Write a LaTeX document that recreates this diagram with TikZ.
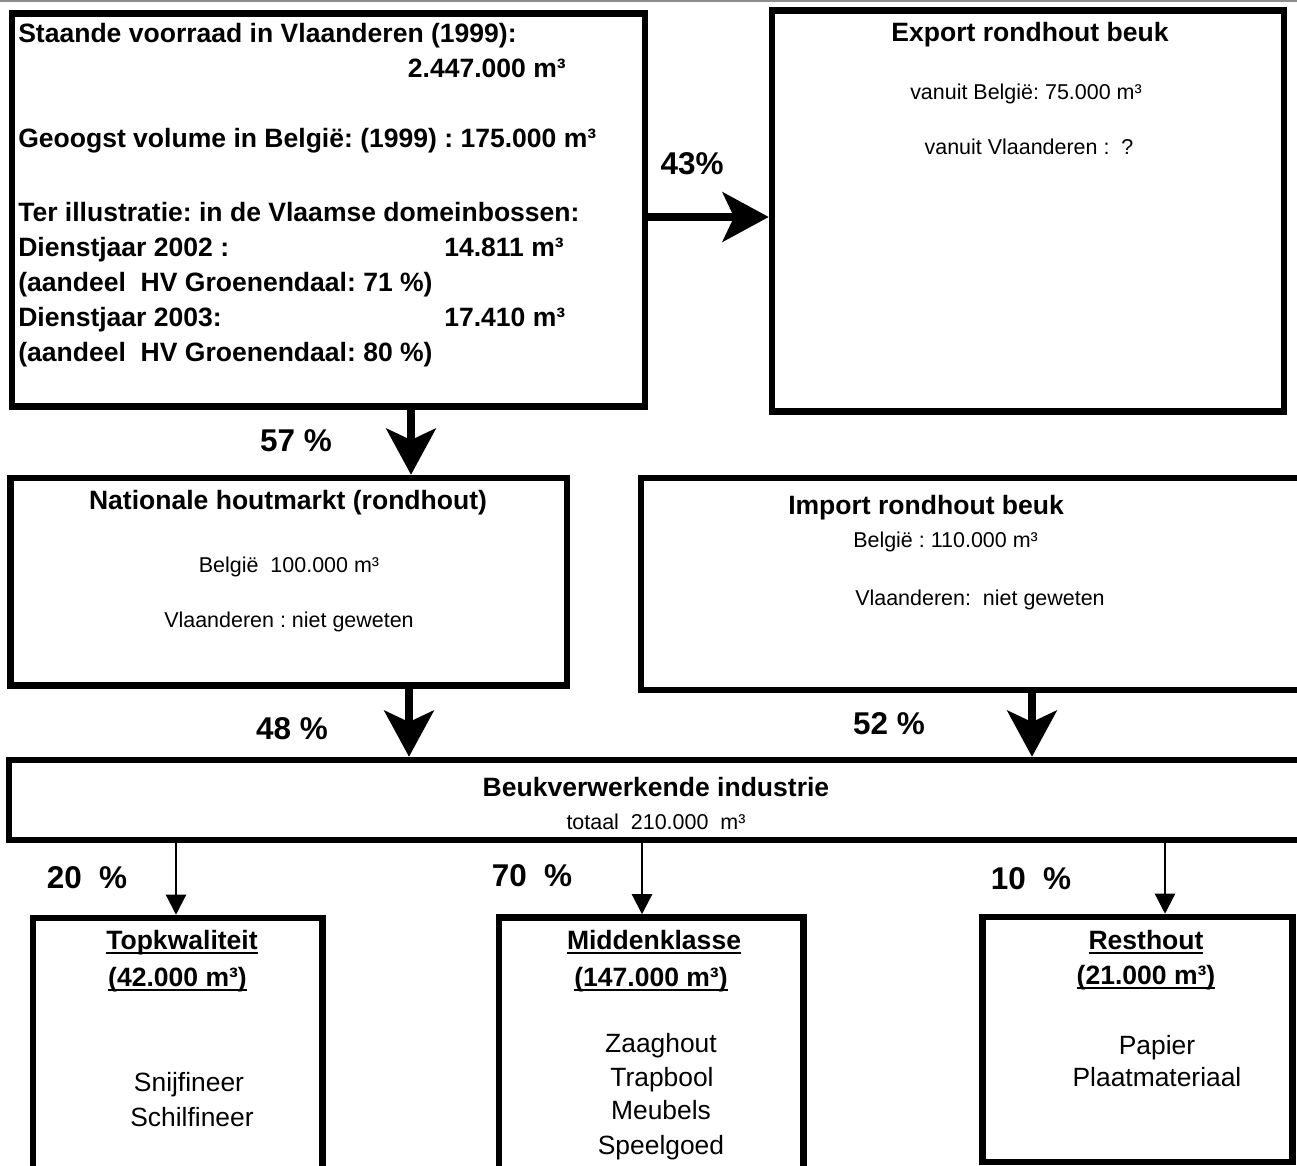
\documentclass[tikz,border=0pt]{standalone}
\usepackage{fontspec}
\setmainfont{Liberation Sans}
\frenchspacing
\usetikzlibrary{arrows.meta,fit}
\newsavebox\ulbox
\newcommand\myul[1]{\sbox\ulbox{#1}\rlap{\rule[-3.5pt]{\wd\ulbox}{1.5pt}}\usebox\ulbox}
\tikzset{
  box/.style={draw, line width=5pt, inner sep=0pt},
  btext/.style={font=\fontsize{19.9}{24}\selectfont\bfseries, inner sep=0pt},
  stext/.style={font=\fontsize{16.1}{19}\selectfont, inner sep=0pt},
  mtext/.style={font=\fontsize{19.8}{24}\selectfont, inner sep=0pt},
  pct/.style={font=\fontsize{23.6}{28}\selectfont\bfseries, inner sep=0pt},
  bigarrow/.style={line width=5.8pt, -{Stealth[length=35pt,width=38pt,inset=9pt,line width=0pt]}},
  thinarrow/.style={line width=1.5pt, -{Triangle[length=15pt,width=15.5pt,line width=0pt]}},
}
\begin{document}
\begin{tikzpicture}[x=0.75pt,y=-0.75pt]
\useasboundingbox (0,0) rectangle (1297,1165);
\fill[white] (0,0) rectangle (1297,1165);
\draw[black!45, line width=0.9pt] (0,1) -- (1297,1);

% boxes
\node[box, fit={(12,13.5) (645,406.5)}] (b1) {};
\node[box, fit={(772,10.5) (1284,411.5)}] (exp) {};
\node[box, fit={(10.5,478) (567,685.5)}] (nat) {};
\node[box, fit={(641,478) (1310,690)}] (imp) {};
\node[box, fit={(9,760) (1310,840)}] (beuk) {};
\node[box, fit={(33,918) (322.5,1180)}] (top) {};
\node[box, fit={(499,917.5) (803.5,1180)}] (mid) {};
\node[box, fit={(982.5,917) (1292.5,1162)}] (rest) {};

% connector helper coordinates
\coordinate (c43) at (700,217);
\coordinate (c57) at (411,0);
\coordinate (c48) at (409,0);
\coordinate (c52) at (1032,0);
\coordinate (c20) at (176,0);
\coordinate (c70) at (642,0);
\coordinate (c10) at (1165,0);

\draw[bigarrow] (b1.east |- c43) -- (exp.west |- c43);
\draw[bigarrow] (b1.south -| c57) -- (nat.north -| c57);
\draw[bigarrow] (nat.south -| c48) -- (beuk.north -| c48);
\draw[bigarrow] (imp.south -| c52) -- (beuk.north -| c52);
\draw[thinarrow] (beuk.south -| c20) -- (top.north -| c20);
\draw[thinarrow] (beuk.south -| c70) -- (mid.north -| c70);
\draw[thinarrow] (beuk.south -| c10) -- (rest.north -| c10);

% box 1 text
\node[btext, anchor=base west] (t1) at (18,42.5) {Staande voorraad in Vlaanderen (1999):};
\node[btext, anchor=base east] (t2) at (566,77.5) {2.447.000 m³};
\node[btext, anchor=base west] (t3) at (18,147.5) {Geoogst volume in België: (1999) : 175.000 m³};
\node[btext, anchor=base west] (t4) at (18,221.5) {Ter illustratie: in de Vlaamse domeinbossen:};
\node[btext, anchor=base west] (t5) at (18,256.5) {Dienstjaar 2002 :};
\node[btext, anchor=base west] (t6) at (444,256.5) {14.811 m³};
\node[btext, anchor=base west] (t7) at (18,291.5) {(aandeel\ \ HV Groenendaal: 71 \%)};
\node[btext, anchor=base west] (t8) at (18,326.5) {Dienstjaar 2003:};
\node[btext, anchor=base west] (t9) at (444,326.5) {17.410 m³};
\node[btext, anchor=base west] (t10) at (18,361.5) {(aandeel\ \ HV Groenendaal: 80 \%)};

% export
\node[btext, anchor=base] (e1) at (1030,41.5) {Export rondhout beuk};
\node[stext, anchor=base] (e2) at (1026,99.7) {vanuit België: 75.000 m³};
\node[stext, anchor=base] (e3) at (1029,154.7) {vanuit Vlaanderen :\ \ ?};

% nationale
\node[btext, anchor=base] (n1) at (288,509.5) {Nationale houtmarkt (rondhout)};
\node[stext, anchor=base] (n2) at (289,572.7) {België\ \ 100.000 m³};
\node[stext, anchor=base] (n3) at (289,627.7) {Vlaanderen : niet geweten};

% import
\node[btext, anchor=base west] (i1) at (788,514.5) {Import rondhout beuk};
\node[stext, anchor=base west] (i2) at (853,547.7) {België : 110.000 m³};
\node[stext, anchor=base west] (i3) at (855,605.7) {Vlaanderen:\ \ niet geweten};

% beuk
\node[btext, anchor=base] (k1) at (656,796.5) {Beukverwerkende industrie};
\node[stext, anchor=base] (k2) at (656,829.7) {totaal\ \ 210.000\ \ m³};

% percentages
\node[pct, anchor=base] (p43) at (692,174.3) {43\%};
\node[pct, anchor=base] (p57) at (296,451) {57 \%};
\node[pct, anchor=base] (p48) at (292,739.3) {48 \%};
\node[pct, anchor=base] (p52) at (889,734.3) {52 \%};
\node[pct, anchor=base] (p20) at (87,888.3) {20\ \ \%};
\node[pct, anchor=base] (p70) at (532,886.3) {70\ \ \%};
\node[pct, anchor=base] (p10) at (1031,889.3) {10\ \ \%};

% bottom boxes
\node[btext, anchor=base] (q1) at (182,949.5) {\myul{Topkwaliteit}};
\node[btext, anchor=base] (q2) at (177.5,986.5) {\myul{(42.000 m³)}};
\node[mtext, anchor=base] (q3) at (189,1091.5) {Snijfineer};
\node[mtext, anchor=base] (q4) at (192,1126.5) {Schilfineer};

\node[btext, anchor=base] (m1) at (654,949.5) {\myul{Middenklasse}};
\node[btext, anchor=base] (m2) at (651,986.5) {\myul{(147.000 m³)}};
\node[mtext, anchor=base] (m3) at (661,1052.5) {Zaaghout};
\node[mtext, anchor=base] (m4) at (662,1086.5) {Trapbool};
\node[mtext, anchor=base] (m5) at (661,1119.5) {Meubels};
\node[mtext, anchor=base] (m6) at (661,1154.5) {Speelgoed};

\node[btext, anchor=base] (r1) at (1146,949.5) {\myul{Resthout}};
\node[btext, anchor=base] (r2) at (1146,984.5) {\myul{(21.000 m³)}};
\node[mtext, anchor=base] (r3) at (1157,1054.5) {Papier};
\node[mtext, anchor=base] (r4) at (1157,1086.5) {Plaatmateriaal};
\end{tikzpicture}
\end{document}
